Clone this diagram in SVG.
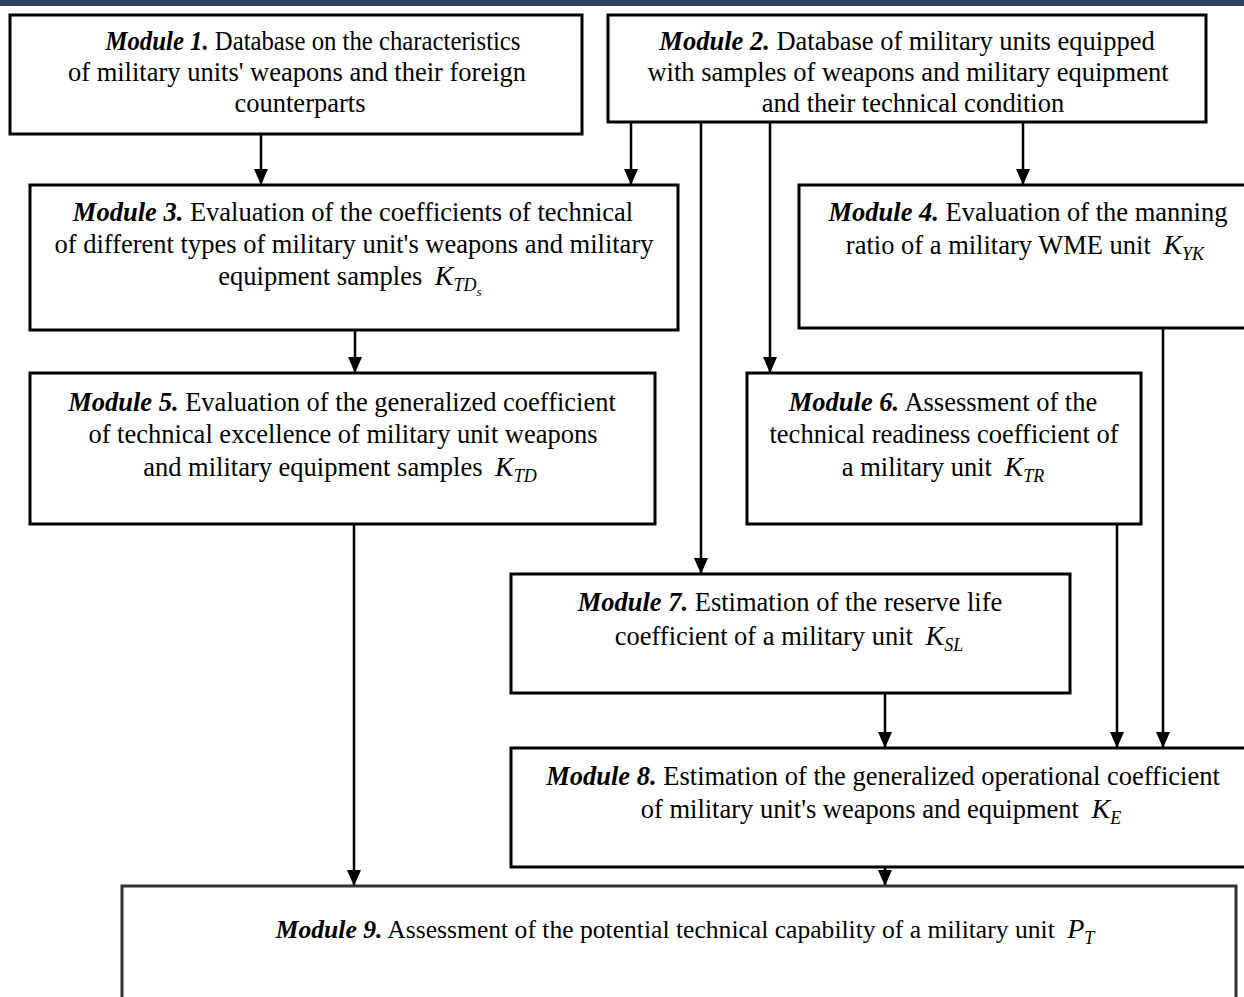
<svg xmlns="http://www.w3.org/2000/svg" width="1244" height="997" viewBox="0 0 1244 997">
<defs>
<marker id="ah" viewBox="0 0 16 14" refX="16" refY="7" markerWidth="16" markerHeight="14" markerUnits="userSpaceOnUse" orient="auto">
<path d="M0,0 L16,7 L0,14 Z" fill="#000"/>
</marker>
<style>
.box{fill:#fff;stroke:#000;stroke-width:3}
.t{font-size:26.5px;fill:#000;text-anchor:middle}
.b{font-weight:bold;font-style:italic}
.m{font-style:italic;font-size:28px}
.s{font-style:italic;font-size:18px}
.ss{font-style:italic;font-size:13px}
.c{fill:none;stroke:#000;stroke-width:2.5}
.a{marker-end:url(#ah)}
</style>
</defs>
<rect x="0" y="0" width="1244" height="997" fill="#fff"/>
<rect x="0" y="0" width="1244" height="6" fill="#2b4264"/>

<g id="connectors">
<path class="c a" d="M261,134 V185"/>
<path class="c a" d="M631,122 V185"/>
<path class="c a" d="M701,122 V574"/>
<path class="c a" d="M770,122 V373"/>
<path class="c a" d="M1023,122 V185"/>
<path class="c a" d="M355,330 V373"/>
<path class="c a" d="M354,524 V886"/>
<path class="c a" d="M1163,328 V748"/>
<path class="c a" d="M1117,524 V748"/>
<path class="c a" d="M885,693 V748"/>
<path class="c a" d="M885,867 V886"/>
</g>

<g font-family="'Liberation Serif', 'Times New Roman', serif">
<g id="module1">
<rect class="box" x="10" y="15" width="572" height="119"/>
<text class="t" x="313" y="50" textLength="415" lengthAdjust="spacingAndGlyphs"><tspan class="b">Module 1.</tspan> Database on the characteristics</text>
<text class="t" x="297" y="81">of military units' weapons and their foreign</text>
<text class="t" x="300" y="112">counterparts</text>
</g>

<g id="module2">
<rect class="box" x="608" y="15" width="598" height="107"/>
<text class="t" x="907" y="50"><tspan class="b">Module 2.</tspan> Database of military units equipped</text>
<text class="t" x="908" y="81">with samples of weapons and military equipment</text>
<text class="t" x="913" y="112">and their technical condition</text>
</g>

<g id="module3">
<rect class="box" x="30" y="185" width="648" height="145"/>
<text class="t" x="353" y="221"><tspan class="b">Module 3.</tspan> Evaluation of the coefficients of technical</text>
<text class="t" x="354" y="253">of different types of military unit's weapons and military</text>
<text class="t" x="350" y="285">equipment samples <tspan class="m" dx="6">K</tspan><tspan class="s" dy="6">TD</tspan><tspan class="ss" dy="5">s</tspan></text>
</g>

<g id="module4">
<rect class="box" x="799" y="185" width="470" height="143"/>
<text class="t" x="1028" y="221"><tspan class="b">Module 4.</tspan> Evaluation of the manning</text>
<text class="t" x="1025" y="254">ratio of a military WME unit <tspan class="m" dx="6">K</tspan><tspan class="s" dy="6">YK</tspan></text>
</g>

<g id="module5">
<rect class="box" x="30" y="373" width="625" height="151"/>
<text class="t" x="342" y="411"><tspan class="b">Module 5.</tspan> Evaluation of the generalized coefficient</text>
<text class="t" x="343" y="443">of technical excellence of military unit weapons</text>
<text class="t" x="340" y="476">and military equipment samples <tspan class="m" dx="6">K</tspan><tspan class="s" dy="6">TD</tspan></text>
</g>

<g id="module6">
<rect class="box" x="747" y="373" width="394" height="151"/>
<text class="t" x="943" y="411"><tspan class="b">Module 6.</tspan> Assessment of the</text>
<text class="t" x="944" y="443">technical readiness coefficient of</text>
<text class="t" x="943" y="476">a military unit <tspan class="m" dx="6">K</tspan><tspan class="s" dy="6">TR</tspan></text>
</g>

<g id="module7">
<rect class="box" x="511" y="574" width="559" height="119"/>
<text class="t" x="790" y="611"><tspan class="b">Module 7.</tspan> Estimation of the reserve life</text>
<text class="t" x="789" y="645">coefficient of a military unit <tspan class="m" dx="6">K</tspan><tspan class="s" dy="6">SL</tspan></text>
</g>

<g id="module8">
<rect class="box" x="511" y="748" width="760" height="119"/>
<text class="t" x="883" y="785"><tspan class="b">Module 8.</tspan> Estimation of the generalized operational coefficient</text>
<text class="t" x="881" y="818">of military unit's weapons and equipment <tspan class="m" dx="6">K</tspan><tspan class="s" dy="6">E</tspan></text>
</g>

<g id="module9">
<rect class="box" x="122" y="886" width="1114" height="130" style="stroke:#333"/>
<text class="t" x="685" y="938" style="font-size:25.6px"><tspan class="b">Module 9.</tspan> Assessment of the potential technical capability of a military unit <tspan class="m" dx="6">P</tspan><tspan class="s" dy="6">T</tspan></text>
</g>
</g>
</svg>
